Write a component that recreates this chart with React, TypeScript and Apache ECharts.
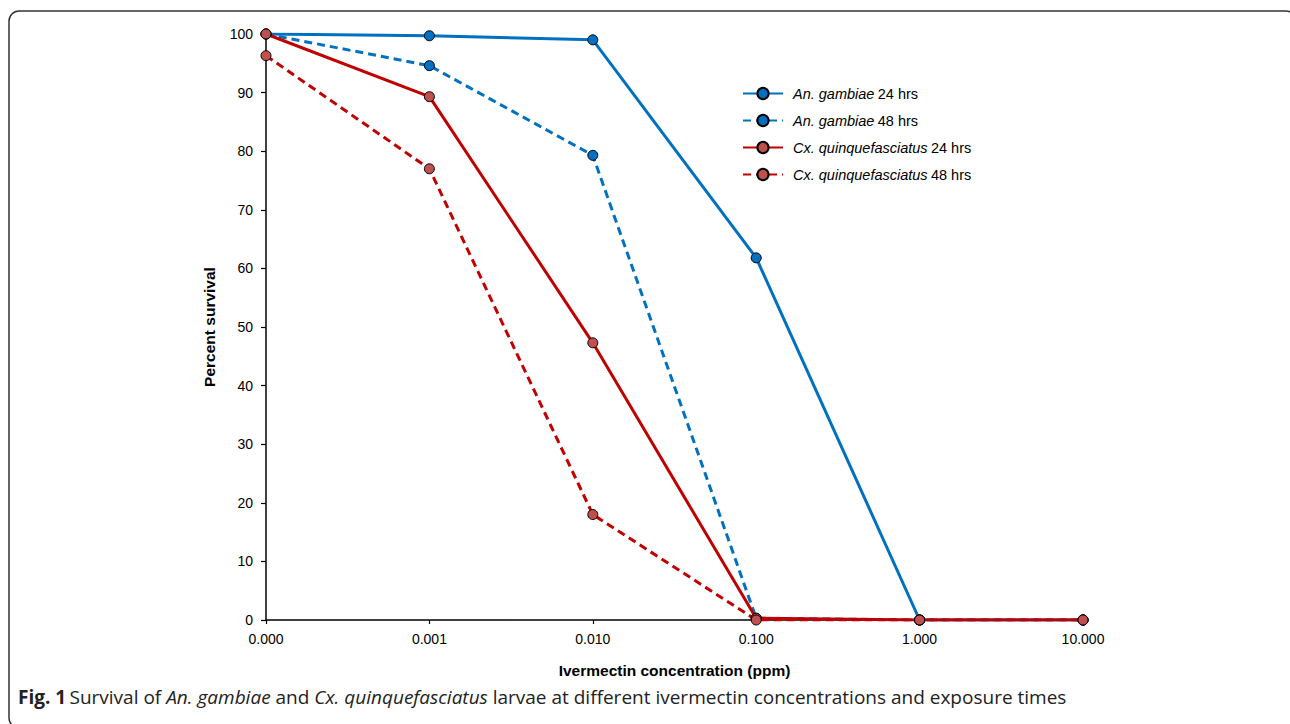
import React, { useEffect, useRef } from "react";
import * as echarts from "echarts";

const concentrations = ["0.000", "0.001", "0.010", "0.100", "1.000", "10.000"];
const anGambiae24 = [100, 99.7, 99.0, 61.8, 0, 0];
const anGambiae48 = [100, 94.6, 79.3, 0.3, 0, 0];
const cxQuinq24 = [100, 89.3, 47.3, 0.3, 0, 0];
const cxQuinq48 = [96.3, 77.0, 18.0, 0, 0, 0];
const seriesNames = [
  "An. gambiae|24 hrs",
  "An. gambiae|48 hrs",
  "Cx. quinquefasciatus|24 hrs",
  "Cx. quinquefasciatus|48 hrs",
];

const BLUE = "#0070C0";
const RED = "#C00000";
const RED_MARK = "#C0504D";
const FONT = "'Liberation Sans', Arial, Helvetica, sans-serif";
const CAP_FONT = "'Open Sans', 'Noto Sans', sans-serif";

function mkSeries(name: string, data: number[], color: string, mark: string, dashed: boolean) {
  return {
    name,
    type: "line",
    data,
    symbol: "circle",
    symbolSize: 10,
    showSymbol: true,
    lineStyle: { color, width: 3, type: dashed ? [8, 5] : "solid" },
    itemStyle: { color: mark, borderColor: "#000", borderWidth: 1 },
    emphasis: { disabled: true },
  };
}

export default function App() {
  const ref = useRef<HTMLDivElement>(null);
  useEffect(() => {
    if (!ref.current) return;
    const chart = echarts.init(ref.current, null, { renderer: "svg" });
    chart.setOption({
      animation: false,
      backgroundColor: "#fff",
      grid: { left: 266, right: 207, top: 34, bottom: 104, containLabel: false },
      legend: {
        orient: "vertical",
        left: 742,
        top: 86,
        padding: 0,
        itemWidth: 40,
        itemHeight: 14,
        itemGap: 12,
        data: seriesNames,
        formatter: (n: string) => {
          const [a, b] = n.split("|");
          return `{i|${a}} {n|${b}}`;
        },
        textStyle: {
          padding: [0, 0, 0, 5],
          rich: {
            i: { fontFamily: FONT, fontSize: 14.5, fontStyle: "italic", color: "#000", lineHeight: 14 },
            n: { fontFamily: FONT, fontSize: 14.5, color: "#000", lineHeight: 14 },
          },
        },
      },
      xAxis: {
        type: "category",
        data: concentrations,
        boundaryGap: false,
        name: "Ivermectin concentration (ppm)",
        nameLocation: "middle",
        nameGap: 42,
        nameTextStyle: { fontFamily: FONT, fontSize: 15.5, fontWeight: "bold", color: "#000" },
        axisLine: { lineStyle: { color: "#000", width: 1.5 } },
        axisTick: { show: true, inside: false, length: 4, lineStyle: { color: "#000", width: 1.2 } },
        axisLabel: { fontFamily: FONT, fontSize: 14, color: "#000", margin: 12 },
        splitLine: { show: false },
      },
      yAxis: {
        type: "value",
        min: 0,
        max: 100,
        interval: 10,
        name: "Percent survival",
        nameLocation: "middle",
        nameGap: 49,
        nameRotate: 90,
        nameTextStyle: { fontFamily: FONT, fontSize: 15.5, fontWeight: "bold", color: "#000" },
        axisLine: { show: true, lineStyle: { color: "#000", width: 1.5 } },
        axisTick: { show: true, inside: false, length: 5, lineStyle: { color: "#000", width: 1.2 } },
        axisLabel: { fontFamily: FONT, fontSize: 14, color: "#000", margin: 13 },
        splitLine: { show: false },
      },
      series: [
        mkSeries(seriesNames[0], anGambiae24, BLUE, BLUE, false),
        mkSeries(seriesNames[1], anGambiae48, BLUE, BLUE, true),
        mkSeries(seriesNames[2], cxQuinq24, RED, RED_MARK, false),
        mkSeries(seriesNames[3], cxQuinq48, RED, RED_MARK, true),
      ],
      graphic: [
        {
          type: "rect",
          silent: true,
          shape: { x: 9, y: 11, width: 1287, height: 717, r: 10 },
          style: { fill: "none", stroke: "#333", lineWidth: 1.5 },
        },
        {
          type: "text",
          left: 18,
          top: 687,
          style: {
            text:
              "{b|Fig. 1} {r|Survival of }{i|An. gambiae}{r| and }{i|Cx. quinquefasciatus}{r| larvae at different ivermectin concentrations and exposure times}",
            rich: {
              b: { fontFamily: CAP_FONT, fontSize: 19, fontWeight: "bold", fill: "#222" },
              r: { fontFamily: CAP_FONT, fontSize: 19, fill: "#222" },
              i: { fontFamily: CAP_FONT, fontSize: 19, fontStyle: "italic", fill: "#222" },
            },
          },
        },
      ],
    });
    return () => chart.dispose();
  }, []);
  return (
    <div
      ref={ref}
      style={{ position: "fixed", left: 0, top: 0, width: 1290, height: 724, background: "#fff" }}
    />
  );
}
